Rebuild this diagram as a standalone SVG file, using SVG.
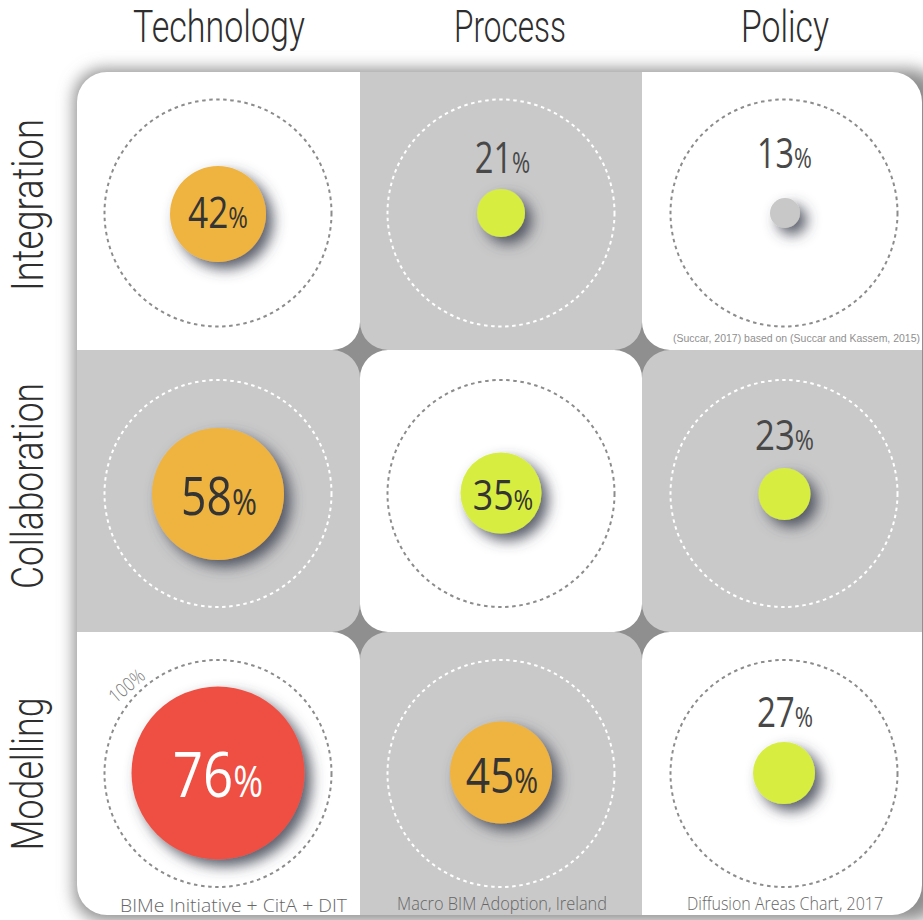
<svg xmlns="http://www.w3.org/2000/svg" width="923" height="920" viewBox="0 0 923 920">
<defs>
<style>
.hdr{font-family:Roboto,"Liberation Sans",sans-serif;font-size:44px;font-weight:300;fill:#2e2e2e}
.pct{font-family:"Open Sans","Liberation Sans",sans-serif;fill:#343434;text-anchor:middle}
.pct2{font-family:"Open Sans","Liberation Sans",sans-serif;fill:#484848;text-anchor:middle}
.pctw{font-family:"Open Sans","Liberation Sans",sans-serif;fill:#ffffff;text-anchor:middle}
.foot{font-family:"Open Sans","Liberation Sans",sans-serif;font-size:19px;font-weight:300;fill:#666666}
.cite{font-family:"Liberation Sans",Arial,sans-serif;font-size:10.5px;fill:#8f8f8f}
.white{fill:#ffffff}
.gray{fill:#c9c9c9}
.dashW{fill:none;stroke:#8c8c8c;stroke-width:2;stroke-dasharray:3.5 3.6}
.dashG{fill:none;stroke:#ffffff;stroke-width:2;stroke-dasharray:3.5 3.6}
.star{fill:#8f8f8f}
.orange{fill:#efb441}
.red{fill:#ee5043}
.green{fill:#d7ed3f}
.lgray{fill:#c8c8c8}
</style>
<filter id="outer" x="-10%" y="-10%" width="120%" height="120%">
<feGaussianBlur in="SourceGraphic" stdDeviation="8"/>
</filter>
<filter id="sh" x="-80%" y="-80%" width="260%" height="260%">
<feGaussianBlur in="SourceAlpha" stdDeviation="7"/>
<feOffset dx="7" dy="7" result="b"/>
<feFlood flood-color="#3e4250" flood-opacity="0.85"/>
<feComposite in2="b" operator="in"/>
<feMerge><feMergeNode/><feMergeNode in="SourceGraphic"/></feMerge>
</filter>
<clipPath id="gridclip"><rect x="77" y="72" width="845" height="843" rx="30" ry="30"/></clipPath>
</defs>

<rect x="0" y="0" width="923" height="920" fill="#ffffff"/>
<rect x="74" y="69" width="866" height="852" rx="30" fill="#8e8e8e" filter="url(#outer)"/>

<g id="headers">
<text class="hdr" x="219" y="42" text-anchor="middle" textLength="172" lengthAdjust="spacingAndGlyphs">Technology</text>
<text class="hdr" x="510" y="42" text-anchor="middle" textLength="112" lengthAdjust="spacingAndGlyphs">Process</text>
<text class="hdr" x="785" y="42" text-anchor="middle" textLength="88" lengthAdjust="spacingAndGlyphs">Policy</text>
<text class="hdr" transform="translate(43,205) rotate(-90)" text-anchor="middle" textLength="172" lengthAdjust="spacingAndGlyphs">Integration</text>
<text class="hdr" transform="translate(43,486) rotate(-90)" text-anchor="middle" textLength="206" lengthAdjust="spacingAndGlyphs">Collaboration</text>
<text class="hdr" transform="translate(43,774) rotate(-90)" text-anchor="middle" textLength="153" lengthAdjust="spacingAndGlyphs">Modelling</text>
</g>

<g clip-path="url(#gridclip)">
<g id="cell-integration-technology">
<rect class="white" x="77" y="72" width="283" height="278"/>
<circle class="dashW" cx="218" cy="213" r="113.5"/>
<circle class="orange" cx="218" cy="214" r="48" filter="url(#sh)"/>
<text class="pct" transform="translate(218,228) scale(0.82,1)" font-size="43">42<tspan font-size="29">%</tspan></text>
</g>
<g id="cell-integration-process">
<rect class="gray" x="360" y="72" width="282" height="278"/>
<circle class="dashG" cx="501" cy="213" r="113.5"/>
<circle class="green" cx="501" cy="213" r="24" filter="url(#sh)"/>
<text class="pct2" transform="translate(502.5,173) scale(0.76,1)" font-size="43">21<tspan font-size="29">%</tspan></text>
</g>
<g id="cell-integration-policy">
<rect class="white" x="642" y="72" width="282" height="278"/>
<circle class="dashW" cx="784" cy="213" r="113.5"/>
<circle class="lgray" cx="785" cy="213" r="15" filter="url(#sh)"/>
<text class="pct2" transform="translate(784.5,168) scale(0.77,1)" font-size="42">13<tspan font-size="28">%</tspan></text>
<text class="cite" x="673" y="342" textLength="247" lengthAdjust="spacingAndGlyphs">(Succar, 2017) based on (Succar and Kassem, 2015)</text>
</g>
<g id="cell-collaboration-technology">
<rect class="gray" x="77" y="350" width="283" height="282"/>
<circle class="dashG" cx="218" cy="493.5" r="113.5"/>
<circle class="orange" cx="218" cy="494" r="66" filter="url(#sh)"/>
<text class="pct" transform="translate(219,515) scale(0.84,1)" font-size="53">58<tspan font-size="36">%</tspan></text>
</g>
<g id="cell-collaboration-process">
<rect class="white" x="360" y="350" width="282" height="282"/>
<circle class="dashW" cx="501" cy="493.5" r="113.5"/>
<circle class="green" cx="501" cy="493" r="40.5" filter="url(#sh)"/>
<text class="pct" transform="translate(503,510) scale(0.85,1)" font-size="42">35<tspan font-size="28">%</tspan></text>
</g>
<g id="cell-collaboration-policy">
<rect class="gray" x="642" y="350" width="282" height="282"/>
<circle class="dashG" cx="784" cy="493.5" r="113.5"/>
<circle class="green" cx="784.5" cy="494" r="26" filter="url(#sh)"/>
<text class="pct2" transform="translate(784.5,450) scale(0.83,1)" font-size="42">23<tspan font-size="28">%</tspan></text>
</g>
<g id="cell-modelling-technology">
<rect class="white" x="77" y="632" width="283" height="283"/>
<circle class="dashW" cx="218" cy="773.5" r="113.5"/>
<text font-family="'Open Sans','Liberation Sans',sans-serif" font-size="19" font-weight="300" fill="#7a7a7a" text-anchor="middle" transform="translate(131,691) rotate(-40) scale(0.85,1)">100%</text>
<circle class="red" cx="218" cy="773" r="86.5" filter="url(#sh)"/>
<text class="pctw" transform="translate(218,797) scale(0.84,1)" font-size="63">76<tspan font-size="43">%</tspan></text>
<text class="foot" x="120" y="912" textLength="227" lengthAdjust="spacingAndGlyphs">BIMe Initiative + CitA + DIT</text>
</g>
<g id="cell-modelling-process">
<rect class="gray" x="360" y="632" width="282" height="283"/>
<circle class="dashG" cx="501" cy="773.5" r="113.5"/>
<circle class="orange" cx="501" cy="772.5" r="51" filter="url(#sh)"/>
<text class="pct" transform="translate(502,793) scale(0.85,1)" font-size="50">45<tspan font-size="34">%</tspan></text>
<text class="foot" x="397" y="910" textLength="210" lengthAdjust="spacingAndGlyphs">Macro BIM Adoption, Ireland</text>
</g>
<g id="cell-modelling-policy">
<rect class="white" x="642" y="632" width="282" height="283"/>
<circle class="dashW" cx="784" cy="773.5" r="113.5"/>
<circle class="green" cx="784" cy="773" r="31" filter="url(#sh)"/>
<text class="pct2" transform="translate(785,727) scale(0.79,1)" font-size="42">27<tspan font-size="28">%</tspan></text>
<text class="foot" x="687" y="910" textLength="196" lengthAdjust="spacingAndGlyphs">Diffusion Areas Chart, 2017</text>
</g>
</g>

<g id="corner-stars">
<path class="star" d="M332,350 A28 28 0 0 0 360,322 A28 28 0 0 0 388,350 A28 28 0 0 0 360,378 A28 28 0 0 0 332,350 Z"/>
<path class="star" d="M614,350 A28 28 0 0 0 642,322 A28 28 0 0 0 670,350 A28 28 0 0 0 642,378 A28 28 0 0 0 614,350 Z"/>
<path class="star" d="M332,632 A28 28 0 0 0 360,604 A28 28 0 0 0 388,632 A28 28 0 0 0 360,660 A28 28 0 0 0 332,632 Z"/>
<path class="star" d="M614,632 A28 28 0 0 0 642,604 A28 28 0 0 0 670,632 A28 28 0 0 0 642,660 A28 28 0 0 0 614,632 Z"/>
</g>
<g id="connectors"/>
</svg>
